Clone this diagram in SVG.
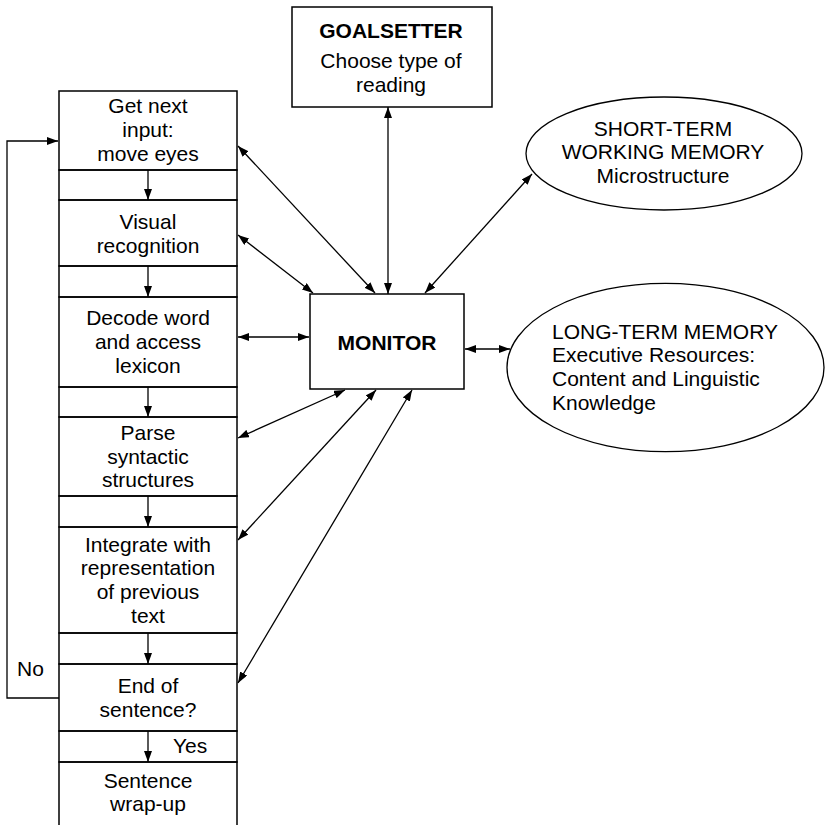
<svg xmlns="http://www.w3.org/2000/svg" width="827" height="825" viewBox="0 0 827 825">
<style>
text{font-family:"Liberation Sans",Arial,sans-serif;font-size:21px;fill:#000}
.c{text-anchor:middle}
.b{font-weight:bold}
.box{fill:none;stroke:#000;stroke-width:1.5}
.ln{fill:none;stroke:#000;stroke-width:1.3}
</style>
<defs>
<marker id="ah" markerUnits="userSpaceOnUse" markerWidth="11" markerHeight="8" refX="11" refY="4" orient="auto-start-reverse" viewBox="0 0 11 8"><path d="M0,0 L11,4 L0,8 z" fill="#000"/></marker>
</defs>
<rect width="827" height="825" fill="#fff"/>
<g id="frame">
<rect class="box" x="59" y="170" width="178" height="30"/>
<rect class="box" x="59" y="266" width="178" height="31"/>
<rect class="box" x="59" y="387" width="178" height="30"/>
<rect class="box" x="59" y="496" width="178" height="31"/>
<rect class="box" x="59" y="633" width="178" height="31"/>
<rect class="box" x="59" y="731" width="178" height="31"/>
</g>
<g id="get-input">
<rect class="box" x="59" y="91" width="178" height="79"/>
<text class="c" x="148" y="113">Get next</text>
<text class="c" x="148" y="137">input:</text>
<text class="c" x="148" y="161">move eyes</text>
</g>
<g id="visual">
<rect class="box" x="59" y="200" width="178" height="66"/>
<text class="c" x="148" y="229">Visual</text>
<text class="c" x="148" y="253">recognition</text>
</g>
<g id="decode">
<rect class="box" x="59" y="297" width="178" height="90"/>
<text class="c" x="148" y="325">Decode word</text>
<text class="c" x="148" y="349">and access</text>
<text class="c" x="148" y="373">lexicon</text>
</g>
<g id="parse">
<rect class="box" x="59" y="417" width="178" height="79"/>
<text class="c" x="148" y="440">Parse</text>
<text class="c" x="148" y="464">syntactic</text>
<text class="c" x="148" y="487">structures</text>
</g>
<g id="integrate">
<rect class="box" x="59" y="527" width="178" height="106"/>
<text class="c" x="148" y="552">Integrate with</text>
<text class="c" x="148" y="575">representation</text>
<text class="c" x="148" y="599">of previous</text>
<text class="c" x="148" y="623">text</text>
</g>
<g id="end-sentence">
<rect class="box" x="59" y="664" width="178" height="67"/>
<text class="c" x="148" y="693">End of</text>
<text class="c" x="148" y="717">sentence?</text>
</g>
<g id="wrap-up">
<path class="box" d="M59,826 V762 H237 V826"/>
<text class="c" x="148" y="788">Sentence</text>
<text class="c" x="148" y="811">wrap-up</text>
</g>
<g id="goalsetter">
<rect class="box" x="292" y="7" width="200" height="100"/>
<text class="c b" x="391" y="38">GOALSETTER</text>
<text class="c" x="391" y="68">Choose type of</text>
<text class="c" x="391" y="92">reading</text>
</g>
<g id="monitor">
<rect class="box" x="310" y="294" width="154" height="95"/>
<text class="c b" x="387" y="350">MONITOR</text>
</g>
<g id="stm">
<ellipse class="ln" cx="664" cy="153.5" rx="138" ry="56.5"/>
<text class="c" x="663" y="136">SHORT-TERM</text>
<text class="c" x="663" y="159">WORKING MEMORY</text>
<text class="c" x="663" y="183">Microstructure</text>
</g>
<g id="ltm">
<ellipse class="ln" cx="665.5" cy="367.5" rx="158.5" ry="84.2"/>
<text x="552" y="339">LONG-TERM MEMORY</text>
<text x="552" y="362">Executive Resources:</text>
<text x="552" y="386">Content and Linguistic</text>
<text x="552" y="410">Knowledge</text>
</g>
<g id="connectors">
<line class="ln" x1="148" y1="170" x2="148" y2="200" marker-end="url(#ah)"/>
<line class="ln" x1="148" y1="266" x2="148" y2="297" marker-end="url(#ah)"/>
<line class="ln" x1="148" y1="387" x2="148" y2="417" marker-end="url(#ah)"/>
<line class="ln" x1="148" y1="496" x2="148" y2="527" marker-end="url(#ah)"/>
<line class="ln" x1="148" y1="633" x2="148" y2="664" marker-end="url(#ah)"/>
<line class="ln" x1="148" y1="731" x2="148" y2="762" marker-end="url(#ah)"/>
<polyline class="ln" points="59,698 7,698 7,141 58,141" marker-end="url(#ah)"/>
<line class="ln" x1="388" y1="107" x2="388" y2="294" marker-start="url(#ah)" marker-end="url(#ah)"/>
<line class="ln" x1="238" y1="146" x2="375" y2="293" marker-start="url(#ah)" marker-end="url(#ah)"/>
<line class="ln" x1="238" y1="235" x2="313" y2="293" marker-start="url(#ah)" marker-end="url(#ah)"/>
<line class="ln" x1="532" y1="174" x2="425" y2="293" marker-start="url(#ah)" marker-end="url(#ah)"/>
<line class="ln" x1="238" y1="337" x2="309" y2="337" marker-start="url(#ah)" marker-end="url(#ah)"/>
<line class="ln" x1="465" y1="349" x2="510" y2="349" marker-start="url(#ah)" marker-end="url(#ah)"/>
<line class="ln" x1="238" y1="438" x2="345" y2="390" marker-start="url(#ah)" marker-end="url(#ah)"/>
<line class="ln" x1="238" y1="540" x2="376" y2="390" marker-start="url(#ah)" marker-end="url(#ah)"/>
<line class="ln" x1="238" y1="683" x2="412" y2="390" marker-start="url(#ah)" marker-end="url(#ah)"/>
<text x="17" y="676">No</text>
<text x="173" y="753">Yes</text>
</g>
</svg>
